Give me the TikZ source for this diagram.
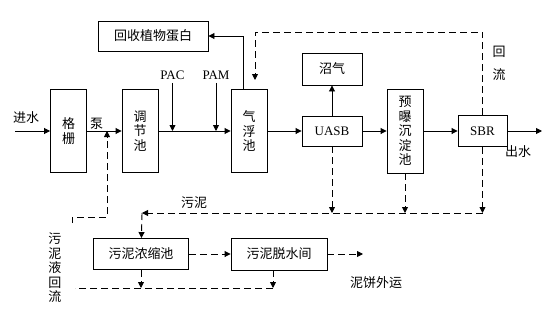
\documentclass[tikz,border=0pt]{standalone}
\usepackage{fontspec}
\setmainfont{Liberation Serif}
\newfontfamily\cjk{Noto Sans CJK SC}
\usetikzlibrary{arrows.meta, positioning}

\begin{document}
\begin{tikzpicture}[x=1pt, y=-1pt,
  font=\cjk\fontsize{13}{14.5}\selectfont,
  box/.style={draw, line width=0.9pt, inner sep=1pt, align=center},
  tall/.style={box, minimum width=36pt, minimum height=83pt},
  lat/.style={font=\rmfamily\fontsize{13}{15}\selectfont},
  a/.style={-{Triangle[length=6pt, width=6pt]}, line width=0.9pt},
  da/.style={a, dash pattern=on 7pt off 4pt},
  dl/.style={line width=0.9pt, dash pattern=on 7pt off 4pt}]
\useasboundingbox (0,0) rectangle (558,322);
\node[box, minimum width=110pt, minimum height=30pt] (hs) at (153,36) {回收植物蛋白};
\node[tall] (gs) at (68.5,131) {格\\栅};
\node[tall] (tj) at (140,131) {调\\节\\池};
\node[tall] (qf) at (249,131) {气\\浮\\池};
\node[box, lat, minimum width=60pt, minimum height=30pt] (uasb) at (332,131) {UASB};
\node[box, minimum width=60pt, minimum height=32pt] (zq) at (332,69) {沼气};
\node[tall, minimum height=84pt] (yp) at (405,131) {预\\曝\\沉\\淀\\池};
\node[box, lat, minimum width=49pt, minimum height=31pt] (sbr) at (482.5,131) {SBR};
\node[box, minimum width=95pt, minimum height=31pt] (nz) at (141,254) {污泥浓缩池};
\node[box, minimum width=96pt, minimum height=32pt] (ts) at (279,254) {污泥脱水间};
\node (jin) at (26,118) {进水};
\node (beng) at (96.5,124) {泵};
\node[lat] (pac) at (172.5,75) {PAC};
\node[lat] (pam) at (216,75) {PAM};
\node (cs) at (518,152) {出水};
\node[align=center] (hl) at (499,63.5) {回\\[8pt]流};
\node (wn) at (194,203) {污泥};
\node[align=center] (wy) at (55,268) {污\\泥\\液\\回\\流};
\node (nb) at (376,283) {泥饼外运};
\coordinate (in) at (15,131);
\coordinate (out) at (542,131);
\coordinate (rj) at (107,131);
\coordinate (ret) at (72,223);
\coordinate (rf) at (255,80);
\coordinate (sl) at (142,213);
\coordinate (bl) at (75,288);
\coordinate (cake) at (363,254);
\coordinate (tsd) at ([xshift=-6pt]ts.south);
\draw[a] (in) -- (gs);
\draw[a] (gs) -- (tj);
\draw[a] (pac) -- (pac |- tj);
\draw[a] (pam) -- (pam |- tj);
\draw[a] (tj) -- (qf);
\draw[a] ([xshift=-6pt]qf.north) |- (hs);
\draw[a] (qf) -- (uasb);
\draw[a] (uasb) -- (zq);
\draw[a] (uasb) -- (yp);
\draw[a] (yp) -- (sbr);
\draw[a] (sbr) -- (out);
\draw[da] (ret) -- ++(0,-6) -| (rj);
\draw[da] (sbr) -- ++(0,-99) -| (rf);
\draw[da] (uasb) -- (uasb |- sl);
\draw[da] (yp) -- (yp |- sl);
\draw[da] (sbr) -- (sbr |- sl);
\draw[da] (sbr |- sl) -- (sl);
\draw[da] (sl) -- (nz);
\draw[da] (nz) -- (ts);
\draw[da] (ts) -- (cake);
\draw[da] (nz) -- (nz |- bl);
\draw[da] (tsd) -- (tsd |- bl);
\draw[dl] (tsd |- bl) -- (bl);
\end{tikzpicture}
\end{document}
